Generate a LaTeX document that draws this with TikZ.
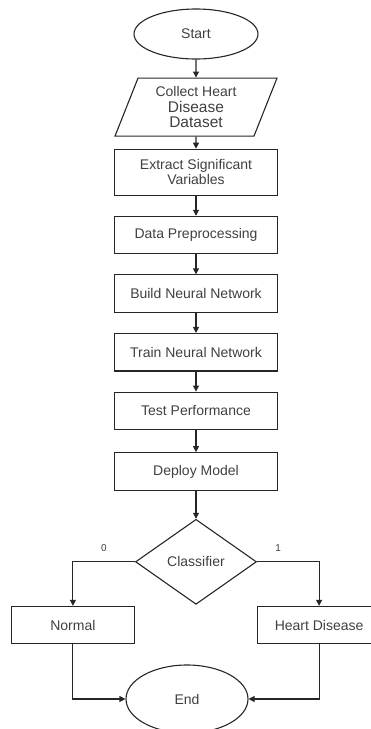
\documentclass[tikz,border=0pt]{standalone}
\usepackage{fontspec}
\setmainfont{Liberation Sans}
\usetikzlibrary{positioning,shapes.geometric,arrows.meta}
\newcommand{\bigtxt}{\fontsize{15.5}{17}\selectfont}

\begin{document}
\begin{tikzpicture}[
        x=1pt, y=1pt,
        every node/.style={text=black!75, font=\fontsize{14}{15}\selectfont},
        process/.style={rectangle, draw=black!85, line width=1.1pt, minimum width=163pt, minimum height=37.5pt, inner sep=2pt, align=center},
        terminal/.style={ellipse, draw=black!85, line width=1.1pt, minimum width=124pt, minimum height=50pt, inner sep=0pt},
        io/.style={trapezium, trapezium left angle=62, trapezium right angle=118, trapezium stretches body, draw=black!85, line width=1.1pt, minimum width=162pt, minimum height=58pt, inner sep=1pt, align=center},
        decision/.style={diamond, aspect=1.42, draw=black!85, line width=1.1pt, minimum width=121pt, minimum height=85pt, inner sep=0pt},
        flow/.style={draw=black!85, line width=1.1pt, -{Triangle[length=6pt, width=6pt]}},
        branch/.style={text=black!75, font=\fontsize{10}{12}\selectfont}
    ]
        \useasboundingbox (0,0) rectangle (370,-729);

        % Main steps
        \node[terminal] (start) at (196,-34) {Start};
        \node[io, below=18pt of start] (collect) {Collect Heart\\[1pt]\bigtxt Disease\\\bigtxt Dataset};
        \node[process, minimum height=46pt, below=12pt of collect] (extract) {Extract Significant\\Variables};
        \node[process, below=20pt of extract] (prep) {Data Preprocessing};
        \node[process, below=20pt of prep] (build) {Build Neural Network};
        \node[process, below=20pt of build] (train) {Train Neural Network};
        \node[process, below=20pt of train] (test) {Test Performance};
        \node[process, below=22pt of test] (deploy) {Deploy Model};
        \node[decision, below=28pt of deploy] (classifier) {Classifier};

        % Outcomes
        \node[process, minimum width=123pt, below left=44pt and 0pt of classifier.west] (normal) {Normal};
        \node[process, minimum width=123pt, below right=44pt and 0pt of classifier.east] (heart) {Heart Disease};
        \node[terminal, minimum width=122pt, minimum height=68pt] (end) at (187,-699) {End};

        % Edges
        \draw[flow] (start) -- (collect);
        \draw[flow] (collect) -- (extract);
        \draw[flow] (extract) -- (prep);
        \draw[flow] (prep) -- (build);
        \draw[flow] (build) -- (train);
        \draw[flow] (train) -- (test);
        \draw[flow] (test) -- (deploy);
        \draw[flow] (deploy) -- (classifier);
        \draw[flow] (classifier.west) -| (normal.north) node[branch, pos=0.25, above=6pt] {0};
        \draw[flow] (classifier.east) -| (heart.north) node[branch, pos=0.17, above=6pt] {1};
        \draw[flow] (normal.south) |- (end.west);
        \draw[flow] (heart.south) |- (end.east);
    \end{tikzpicture}
\end{document}
